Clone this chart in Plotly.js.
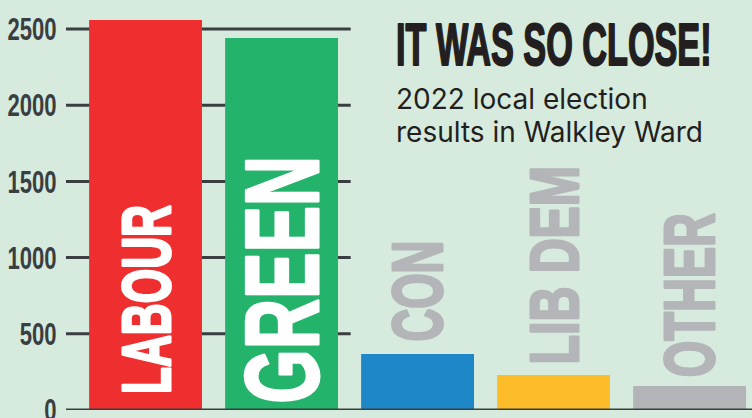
<!DOCTYPE html>
<html><head><meta charset="utf-8">
<script src="https://cdn.plot.ly/plotly-3.0.1.min.js"></script>
<style>html,body{margin:0;padding:0;background:#d6ebdd;} #chart{width:752px;height:418px;}</style>
</head><body><div id="chart"></div>
<script>
// ---- data ----
const parties = ['LABOUR', 'GREEN', 'CON', 'LIB DEM', 'OTHER'];
const votes = [2559, 2441, 367, 230, 157];
const yTickVals = [0, 500, 1000, 1500, 2000, 2500];
const yTickText = ['0', '500', '1000', '1500', '2000', '2500'];
const titleText = 'IT WAS SO CLOSE!';
const subtitleLines = ['2022 local election', 'results in Walkley Ward'];

// ---- styles ----
const BG = '#d6ebdd';
const INK = '#3b3e41';
const BOLD = 'Liberation Sans, Arial, sans-serif';
const barColors = ['#ee2e2f', '#24b36b', '#1e87c8', '#fdbc29', '#b3b4b7'];
const labelSize = [68, 104, 70, 68, 70];
const labelCondense = [0.65, 0.67, 0.65, 0.71, 0.67];
const labelShift = [14, 4, 10, 8, 7];
const insideThreshold = 1000;
const CONDENSE_TITLE = 0.58, CONDENSE_TICK = 0.69;
const SUB_TOP = 0.806, SUB_STEP = 0.0805;

const trace = {
  type: 'bar', x: parties, y: votes,
  marker: {color: barColors, line: {width: 0}},
  hoverinfo: 'skip'
};

const shapes = yTickVals.slice(1).map(v => ({
  type: 'line', xref: 'paper', yref: 'y', x0: 0, x1: 0.415, y0: v, y1: v,
  line: {color: INK, width: 3}, layer: 'below'
}));
shapes.push({type: 'line', xref: 'paper', yref: 'y', x0: 0, x1: 1, y0: yTickVals[0], y1: yTickVals[0],
  line: {color: INK, width: 3}, layer: 'above'});

const annotations = [];
const condense = [];
const strokeW = [];
annotations.push({xref: 'paper', yref: 'paper', x: 0.478, y: 0.976, xanchor: 'left', yanchor: 'top',
  text: titleText, showarrow: false, font: {family: BOLD, size: 59, color: '#231f20', weight: 700}});
condense.push(CONDENSE_TITLE); strokeW.push(2);
subtitleLines.forEach((line, k) => {
  annotations.push({xref: 'paper', yref: 'paper', x: 0.478, y: SUB_TOP - k * SUB_STEP, xanchor: 'left', yanchor: 'top',
    text: line, align: 'left', showarrow: false, font: {family: 'Inter, sans-serif', size: 28, color: '#231f20'}});
  condense.push(1); strokeW.push(0);
});
parties.forEach((p, i) => {
  const inside = votes[i] > insideThreshold;
  annotations.push({xref: 'x', yref: 'y', x: p, y: inside ? 0 : votes[i], xanchor: 'center', yanchor: 'bottom',
    yshift: labelShift[i], textangle: -90, text: p, showarrow: false,
    font: {family: BOLD, size: labelSize[i], color: inside ? '#ffffff' : '#b4b5b9', weight: 700}});
  condense.push(labelCondense[i]); strokeW.push(3);
});

const layout = {
  width: 752, height: 418,
  margin: {l: 66, r: 0, t: 0, b: 8},
  paper_bgcolor: BG, plot_bgcolor: BG,
  showlegend: false, bargap: 0.17,
  xaxis: {type: 'category', range: [-0.585, 4.459], showticklabels: false, showgrid: false,
    zeroline: false, showline: false, ticks: ''},
  yaxis: {range: [0, 2690], tickvals: yTickVals, ticktext: yTickText, showgrid: false, zeroline: false,
    showline: false, ticks: 'outside', ticklen: 2, tickcolor: 'rgba(0,0,0,0)',
    ticklabeloverflow: 'allow',
    tickfont: {family: BOLD, size: 32, color: INK, weight: 700}},
  shapes: shapes, annotations: annotations
};

function squeeze(el, s, anchor) {
  if (s === 1) return;
  const bb = el.getBBox();
  const ax = anchor === 'end' ? bb.x + bb.width : bb.x;
  const tr = el.getAttribute('transform') || '';
  el.setAttribute('transform', tr + ' translate(' + ax + ',0) scale(' + s + ',1) translate(' + (-ax) + ',0)');
}
function thicken(el, w) {
  if (!w) return;
  const fill = el.style.fill || el.getAttribute('fill');
  el.style.stroke = fill;
  el.style.strokeWidth = w + 'px';
  el.style.strokeLinejoin = 'round';
  el.style.paintOrder = 'stroke fill';
}

Plotly.newPlot('chart', [trace], layout, {displayModeBar: false, staticPlot: true}).then(gd => {
  gd.querySelectorAll('.ytick text').forEach(t => squeeze(t, CONDENSE_TICK, 'end'));
  gd.querySelectorAll('.annotation').forEach(g => {
    const idx = +g.getAttribute('data-index');
    const t = g.querySelector('text.annotation-text');
    if (t) { squeeze(t, condense[idx], 'start'); thicken(t, strokeW[idx]); }
  });
});
</script>
</body></html>
